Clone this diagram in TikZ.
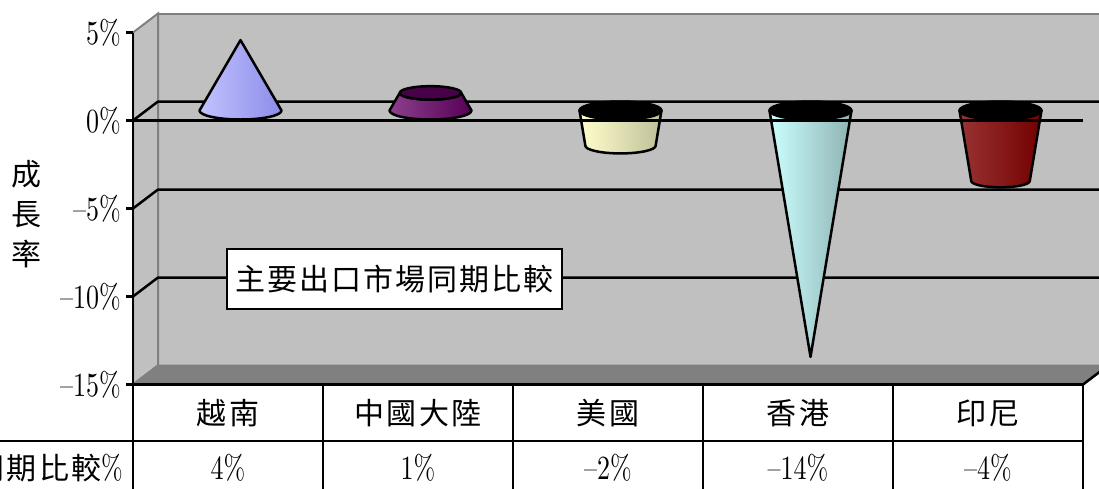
\documentclass[tikz,border=0pt]{standalone}
\usepackage{fontspec}
\usepackage{graphicx}
\newfontfamily\cjk[LetterSpace=7]{Noto Sans CJK TC}
\newfontfamily\numfont{lmroman10-regular}[Extension=.otf]
\definecolor{wall_gray}{HTML}{C0C0C0}
\definecolor{edge_gray}{HTML}{808080}
\definecolor{cone_lav}{HTML}{9999FF}
\definecolor{cone_plum}{HTML}{660066}
\definecolor{cone_plum_top}{HTML}{480048}
\definecolor{cone_cream}{HTML}{FFFFCC}
\definecolor{cone_aqua}{HTML}{CCFFFF}
\definecolor{cone_red}{HTML}{800000}
\newcommand{\pct}[1]{\scalebox{1}[1.3]{\fontsize{26}{28}\selectfont\numfont #1}}

\begin{document}
\begin{tikzpicture}[x=1pt, y=-1pt,
    grid/.style={line width=2.5pt},
    edge/.style={draw=edge_gray, line width=2pt},
    cone/.style={draw=black, line width=2.5pt, line join=round},
    cell/.style={font=\fontsize{30}{40}\selectfont\cjk, inner sep=1pt},
    ylabel/.style={anchor=east, inner xsep=4pt, inner ysep=1pt}]

    \useasboundingbox (0,0) rectangle (1099,488);

    % back wall, side wall, floor
    \filldraw [fill=wall_gray, edge] (158,13.5) rectangle (1115,365.5);
    \filldraw [fill=wall_gray, edge] (133,32.5) -- (158,13.5) -- (158,365.5) -- (133,384.5) -- cycle;
    \filldraw [fill=edge_gray, edge] (133,384.5) -- (158,365.5) -- (1108,365.5) -- (1083,384.5) -- cycle;
    \draw [grid] (1083,384.5) -- (1108,365.5);

    % gridlines
    \foreach \v in {0,-5,-10} {
        \draw [grid] (133,{120.5-17.6*\v}) -- (158,{101.5-17.6*\v}) -- (1115,{101.5-17.6*\v});
    }

    % cones: 4%, 1%, -2%, -14%, -4%
    \filldraw [cone, left color=cone_lav!60!white, right color=cone_lav!92!black]
        (199.5,110.5) -- (240.5,40.1) -- (281.5,110.5)
        arc [start angle=0, end angle=180, x radius=41, y radius=9] -- cycle;

    \filldraw [cone, left color=cone_plum!75!white, right color=cone_plum!85!black]
        (389.5,110.5) -- (399.75,92.9)
        arc [start angle=180, end angle=0, x radius=30.75, y radius=6.75]
        -- (471.5,110.5)
        arc [start angle=0, end angle=180, x radius=41, y radius=9] -- cycle;
    \filldraw [cone, fill=cone_plum_top] (430.5,92.9) ellipse [x radius=30.75, y radius=6.75];

    \filldraw [cone, left color=cone_cream, right color=cone_cream!75!black]
        (579.5,110.5) -- (585.36,145.7)
        arc [start angle=180, end angle=0, x radius=35.14, y radius=7.71]
        -- (661.5,110.5) -- cycle;
    \filldraw [cone, fill=black] (620.5,110.5) ellipse [x radius=41, y radius=9];

    \filldraw [cone, left color=cone_aqua, right color=cone_aqua!70!black]
        (769.5,110.5) -- (810.5,356.9) -- (851.5,110.5) -- cycle;
    \filldraw [cone, fill=black] (810.5,110.5) ellipse [x radius=41, y radius=9];

    \filldraw [cone, left color=cone_red!80!white, right color=cone_red!90!black]
        (959.5,110.5) -- (971.21,180.9)
        arc [start angle=180, end angle=0, x radius=29.29, y radius=6.43]
        -- (1041.5,110.5) -- cycle;
    \filldraw [cone, fill=black] (1000.5,110.5) ellipse [x radius=41, y radius=9];

    % category axis at 0%
    \coordinate (zero_l) at (133,120.5);
    \coordinate (zero_r) at (1083,120.5);
    \draw [grid] (zero_l) -- (zero_r);

    % value axis, ticks and labels
    \coordinate (axis_top) at (133,32.5);
    \coordinate (axis_bot) at (133,492);
    \draw [grid] (axis_top) -- (axis_bot);
    \foreach \v/\t/\n in {5/5\%/a, 0/0\%/b, -5/\textendash5\%/c, -10/\textendash10\%/d, -15/\textendash15\%/e} {
        \coordinate (tick_\n) at (133,{120.5-17.6*\v});
        \draw [grid] (tick_\n) -- ++(-7,0) node [ylabel] (ylab_\n) {\pct{\t}};
    }
    \node [cell, align=center] (ytitle) at (27,214) {成\\長\\率};

    % data table
    \draw [grid] (133,384.5) -- (1083,384.5);
    \draw [grid] (-5,441) -- (1083,441);
    \foreach \x in {323,513,703,893,1083} {
        \draw [grid] (\x,384.5) -- (\x,492);
    }
    \foreach \x/\t/\n in {228/越南/vn, 418/中國大陸/cn, 608/美國/us, 798/香港/hk, 988/印尼/id} {
        \node [cell] (cat_\n) at (\x,413) {\t};
        }
    \foreach \x/\t/\n in {228/4\%/vn, 418/1\%/cn, 608/\textendash2\%/us, 798/\textendash14\%/hk, 988/\textendash4\%/id} {
        \node [inner sep=1pt] (val_\n) at (\x,468) {\pct{\t}};
        }
    \node [cell, anchor=east] (rowlab) at (124,468) {同期比較\pct{\%}};

    % chart title
    \node [cell, draw, fill=white, line width=2.5pt, minimum width=335, minimum height=60] (title) at (394.5,279) {主要出口市場同期比較};

\end{tikzpicture}
\end{document}
